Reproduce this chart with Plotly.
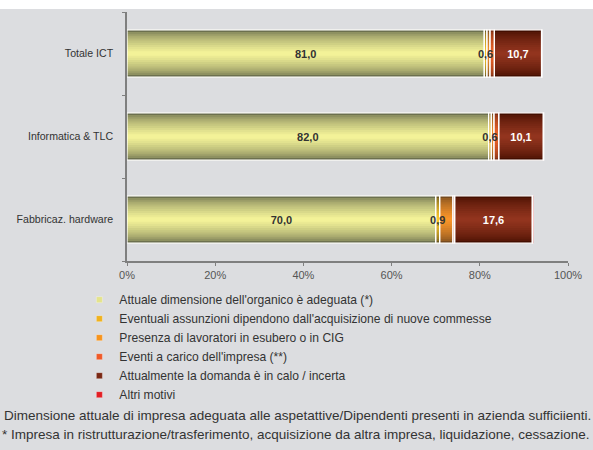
import plotly.graph_objects as go

# Categories (top to bottom as displayed)
categories = ["Totale ICT", "Informatica & TLC", "Fabbricaz. hardware"]

series_names = [
    "Attuale dimensione dell'organico è adeguata (*)",
    "Eventuali assunzioni dipendono dall'acquisizione di nuove commesse",
    "Presenza di lavoratori in esubero o in CIG",
    "Eventi a carico dell'impresa (**)",
    "Attualmente la domanda è in calo / incerta",
    "Altri motivi",
]

# Percentages per category
adeguata = [81.0, 82.0, 70.0]
commesse = [0.6, 0.6, 0.9]
esubero = [0.7, 0.6, 3.0]
eventi = [1.0, 1.1, 0.4]
domanda = [10.7, 10.1, 17.6]
altri = [0.1, 0.1, 0.2]

values = [adeguata, commesse, esubero, eventi, domanda, altri]

x_tickvals = [0, 20, 40, 60, 80, 100]
x_ticktext = ["0%", "20%", "40%", "60%", "80%", "100%"]

footnotes = [
    "Dimensione attuale di impresa adeguata alle aspetattive/Dipendenti presenti in azienda sufficiienti.",
    "* Impresa in ristrutturazione/trasferimento, acquisizione da altra impresa, liquidazione, cessazione.",
]

# Shading: (edge colour, centre colour) for the cylinder-like fill of each series
shades = [
    ((108, 112, 78), (243, 242, 152)),
    ((108, 88, 34), (250, 200, 42)),
    ((118, 74, 30), (248, 148, 42)),
    ((128, 48, 20), (240, 100, 40)),
    ((68, 14, 0), (146, 52, 30)),
    ((150, 20, 20), (230, 40, 40)),
]
legend_colors = ["#e4e38c", "#f0b21e", "#f7941d", "#f05a28", "#7a2814", "#e31e24"]
labelled = {0: "#333333", 1: "#333333", 4: "#ffffff"}

BAR_W = 0.57
N_BANDS = 11
BG = "#dcdde0"
FONT = "Liberation Sans, Arial, sans-serif"

fig = go.Figure()

# stacked bases for each series
bases_per_series = []
running = [0.0] * len(categories)
for vals in values:
    bases_per_series.append(list(running))
    running = [b + v for b, v in zip(running, vals)]

# shaded bands (outer dark, inner light)
for s, vals in enumerate(values):
    edge, centre = shades[s]
    for k in range(N_BANDS):
        t = (k / (N_BANDS - 1)) ** 0.6
        col = "rgb({},{},{})".format(
            *[round(e + (c - e) * t) for e, c in zip(edge, centre)]
        )
        fig.add_trace(go.Bar(
            y=categories, x=vals, base=bases_per_series[s], orientation="h",
            width=BAR_W * (1 - k / N_BANDS),
            marker=dict(color=col, line=dict(width=0)),
            showlegend=False, hoverinfo="skip",
        ))

# white outlines around every segment
for s, vals in enumerate(values):
    fig.add_trace(go.Bar(
        y=categories, x=vals, base=bases_per_series[s], orientation="h", width=BAR_W,
        marker=dict(color="rgba(0,0,0,0)", line=dict(color="white", width=1.2)),
        showlegend=False, hoverinfo="skip",
    ))

# value labels on top of everything
for s, colour in labelled.items():
    fig.add_trace(go.Bar(
        y=categories, x=values[s], base=bases_per_series[s], orientation="h",
        width=BAR_W,
        marker=dict(color="rgba(0,0,0,0)", line=dict(width=0)),
        texttemplate="<b>%{x:.1f}</b>", textposition="inside",
        insidetextanchor="middle", textangle=0, constraintext="none",
        textfont=dict(family=FONT, size=11, color=colour),
        showlegend=False, name=series_names[s],
    ))

# legend entries as small square markers
for name, col in zip(series_names, legend_colors):
    fig.add_trace(go.Scatter(
        x=[None], y=[None], mode="markers", name=name, legendgroup=name,
        marker=dict(symbol="square", size=6, color=col,
                    line=dict(color="rgba(255,255,255,0.6)", width=0.5)),
    ))

foot_font = dict(family=FONT, size=13.5, color="#333333")

fig.update_layout(
    width=593, height=450,
    barmode="overlay",
    separators=",.",
    paper_bgcolor=BG, plot_bgcolor=BG,
    margin=dict(l=127, r=25, t=12, b=189),
    font=dict(family=FONT, size=11, color="#333333"),
    xaxis=dict(
        range=[0, 100], tickvals=x_tickvals, ticktext=x_ticktext,
        showgrid=False, zeroline=False, showline=True,
        linecolor="#7f7f7f", linewidth=1.5, ticks="outside", ticklen=3,
        tickcolor="#7f7f7f", tickfont=dict(size=11, color="#555555"),
        fixedrange=True,
    ),
    yaxis=dict(
        type="category", categoryorder="array", categoryarray=categories[::-1],
        range=[-0.5, 2.5], showgrid=False, zeroline=False, showline=True,
        linecolor="#7f7f7f", linewidth=1.5, ticks="outside", ticklen=3,
        tickcolor="#7f7f7f", tickson="boundaries", ticklabelstandoff=10,
        tickfont=dict(size=10.6, color="#333333"), fixedrange=True,
    ),
    legend=dict(
        x=-0.108, y=-0.097, xanchor="left", yanchor="top",
        bgcolor="rgba(0,0,0,0)", font=dict(size=12.1, color="#333333"),
        itemsizing="trace", traceorder="normal", tracegroupgap=0.8,
    ),
    shapes=[dict(
        type="rect", xref="paper", yref="paper",
        x0=-0.4, x1=1.2, y0=1.012, y1=1.1,
        fillcolor="white", line=dict(width=0), layer="above",
    )],
    annotations=[
        dict(text=footnotes[0], xref="paper", yref="paper", x=-0.284, y=-0.622,
             xanchor="left", yanchor="middle", showarrow=False, font=foot_font),
        dict(text=footnotes[1], xref="paper", yref="paper", x=-0.287, y=-0.695,
             xanchor="left", yanchor="middle", showarrow=False, font=foot_font),
    ],
)

fig.write_html("out.html")
